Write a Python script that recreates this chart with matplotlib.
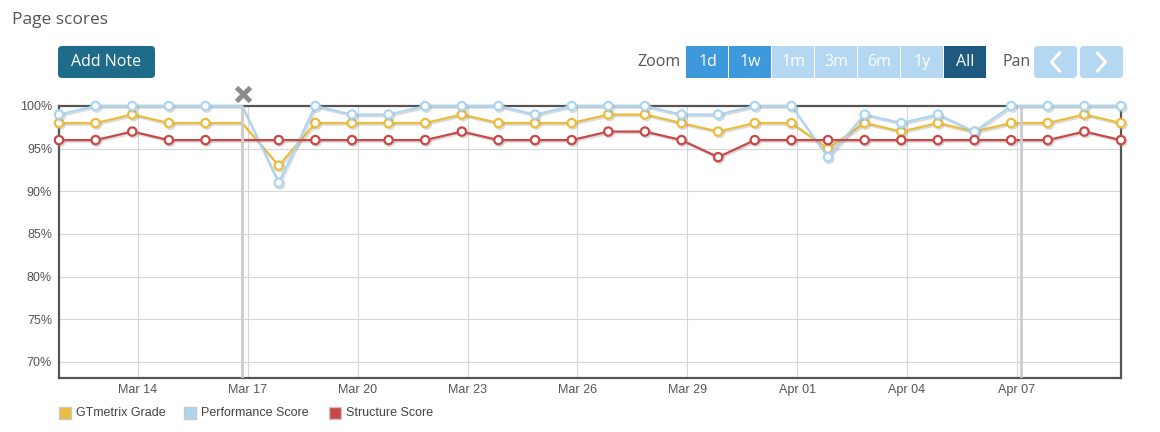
import numpy as np
import pandas as pd
import matplotlib
matplotlib.use("Agg")
import matplotlib.pyplot as plt
import matplotlib.patheffects as pe
from matplotlib.patches import FancyBboxPatch, Rectangle

# daily test runs (evening checks)
dates = pd.date_range("2019-03-11 20:15", periods=30, freq="D")

gtmetrix_grade = [98, 98, 99, 98, 98, 98, 93, 98, 98, 98,
                  98, 99, 98, 98, 98, 99, 99, 98, 97, 98,
                  98, 95, 98, 97, 98, 97, 98, 98, 99, 98]
performance = [99, 100, 100, 100, 100, 100, 91, 100, 99, 99,
               100, 100, 100, 99, 100, 100, 100, 99, 99, 100,
               100, 94, 99, 98, 99, 97, 100, 100, 100, 100]
structure = [96, 96, 97, 96, 96, 96, 96, 96, 96, 96,
             96, 97, 96, 96, 96, 97, 97, 96, 94, 96,
             96, 96, 96, 96, 96, 96, 96, 96, 97, 96]

notes = pd.to_datetime(["2019-03-16 20:15", "2019-04-07 03:00"])
tick_days = pd.to_datetime(["2019-03-14", "2019-03-17", "2019-03-20", "2019-03-23", "2019-03-26",
                            "2019-03-29", "2019-04-01", "2019-04-04", "2019-04-07"])
tick_labels = ["Mar 14", "Mar 17", "Mar 20", "Mar 23", "Mar 26", "Mar 29", "Apr 01", "Apr 04", "Apr 07"]
y_ticks = [70, 75, 80, 85, 90, 95, 100]

series_names = ["GTmetrix Grade", "Performance Score", "Structure Score"]
series_colors = ["#ebbd3c", "#acd5f2", "#cc4646"]
zoom_labels = ["1d", "1w", "1m", "3m", "6m", "1y", "All"]

W, H = 1160, 432
fig = plt.figure(figsize=(W / 100, H / 100), dpi=100)
plt.rcParams["font.family"] = ["Liberation Sans", "DejaVu Sans"]

# plot area in pixels: left 59, right 1121, top 106, bottom 378
ax = fig.add_axes([59 / W, 1 - 378 / H, (1121 - 59) / W, (378 - 106) / H])

shadow = [pe.SimpleLineShadow(offset=(1, -1.2), shadow_color="#999999", alpha=0.35), pe.Normal()]
marks = [i for i in range(len(dates)) if i != 5]
for vals, col, z in zip([gtmetrix_grade, performance, structure], series_colors, [3, 4, 5]):
    ax.plot(dates, vals, color=col, lw=1.6, marker="o", markersize=6,
            markerfacecolor="white", markeredgecolor=col, markeredgewidth=1.6,
            markevery=marks, clip_on=False, zorder=z, path_effects=shadow)

for n in notes:
    ax.axvline(n, color="#cccccc", lw=2.0, zorder=6)

ax.set_xlim(dates[0], dates[-1])
ax.set_ylim(68.1, 100)
ax.set_yticks(y_ticks)
ax.set_yticklabels([f"{v}%" for v in y_ticks])
ax.set_xticks(tick_days)
ax.set_xticklabels(tick_labels)
ax.grid(True, color="#d6d6d6", lw=0.8, zorder=0)
ax.tick_params(length=0, labelsize=9, colors="#555555", pad=5)
ax.tick_params(axis="x", pad=4)
for s in ax.spines.values():
    s.set_color("#555555")
    s.set_linewidth(1.6)
    s.set_zorder(2)

# overlay for page furniture, in pixel coordinates
ov = fig.add_axes([0, 0, 1, 1], zorder=10)
ov.set_xlim(0, W)
ov.set_ylim(H, 0)
ov.axis("off")
ov.patch.set_alpha(0)

ui_font = ["Open Sans", "DejaVu Sans"]
ov.text(12, 20, "Page scores", fontsize=12.5, color="#555555", va="center", family=ui_font)

ov.add_patch(FancyBboxPatch((58, 46), 97, 32, boxstyle="round,pad=0,rounding_size=4",
                            fc="#1e6b8a", ec="none"))
ov.text(106.5, 62, "Add Note", fontsize=11.5, color="white", ha="center", va="center", family=ui_font)

ov.text(681, 62, "Zoom", fontsize=11.5, color="#555555", ha="right", va="center", family=ui_font)
bx = 686
bw = 43
for k, lab in enumerate(zoom_labels):
    if lab == "All":
        fc = "#1e5a80"
    elif k < 2:
        fc = "#3d98dc"
    else:
        fc = "#b4d8f1"
    ov.add_patch(Rectangle((bx + k * bw, 46), bw - 1, 32, fc=fc, ec="none"))
    ov.text(bx + k * bw + bw / 2, 62, lab, fontsize=11.5, color="white", ha="center",
            va="center", family=ui_font)

ov.text(1002, 62, "Pan", fontsize=11.5, color="#555555", ha="left", va="center", family=ui_font)
for x0, sym in [(1034, "<"), (1080, ">")]:
    ov.add_patch(FancyBboxPatch((x0, 46), 43, 32, boxstyle="round,pad=0,rounding_size=4",
                                fc="#b4d8f1", ec="none"))
    d = -1 if sym == "<" else 1
    cx = x0 + 21.5
    ov.plot([cx - 4 * d, cx + 4 * d, cx - 4 * d], [53, 62, 71], color="white", lw=2.2)

ov.plot([242.5], [94], marker="x", markersize=10, mew=3.5, color="#8c8c8c")

leg_x = [59, 184, 329]
for x0, name, col in zip(leg_x, series_names, series_colors):
    ov.add_patch(Rectangle((x0, 407), 12, 12, fc=col, ec="#c8c8c8", lw=1))
    ov.text(x0 + 17, 413.5, name, fontsize=9, color="#444444", va="center")

fig.savefig("out.png", dpi=100)
